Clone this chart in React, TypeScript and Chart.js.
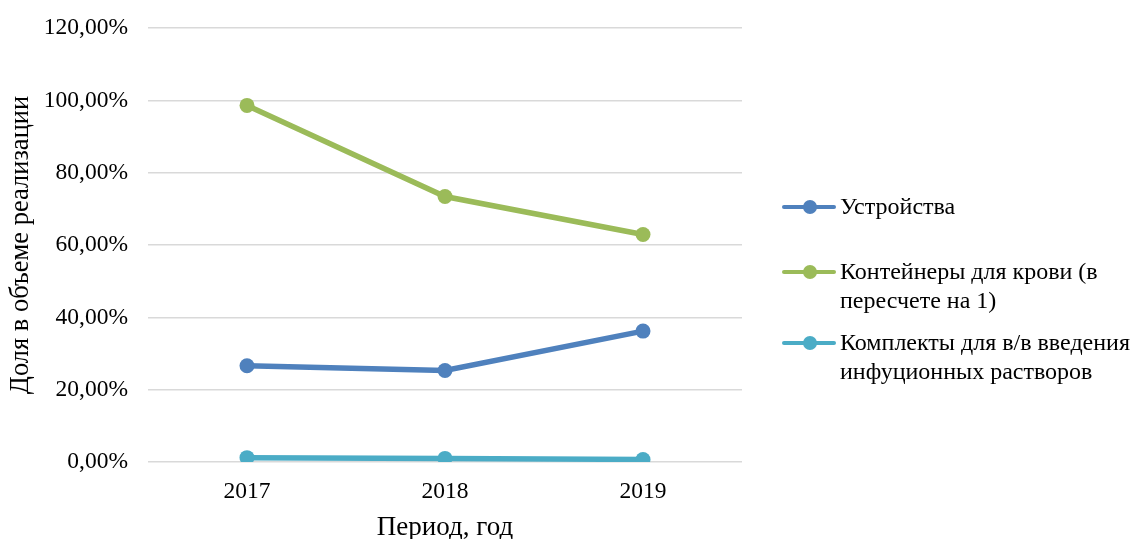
import React, { useEffect, useRef } from "react";
import { Chart, registerables } from "chart.js";

Chart.register(...registerables);

// Years on the horizontal axis
const years = ["2017", "2018", "2019"];

// Share of sales volume, percent
const devices = [26.6, 25.3, 36.2];
const bloodContainers = [98.6, 73.4, 62.9];
const infusionKits = [1.2, 1.0, 0.7];

// Legend text, one entry per line of the wrapped label
const seriesLabels: string[][] = [
  ["Устройства"],
  ["Контейнеры для крови (в", "пересчете на 1)"],
  ["Комплекты для в/в введения", "инфуционных растворов"],
];
const seriesColors = ["#4F81BD", "#9BBB59", "#4BACC6"];

const yAxisTitle = "Доля в объеме реализации";
const xAxisTitle = "Период, год";

const FONT = '"Liberation Serif", "Times New Roman", serif';
const W = 1135;
const H = 539;

// Vertical positions of the legend rows (first text line of each entry)
const legendRowTops = [192, 257, 328];

export default function App() {
  const canvasRef = useRef<HTMLCanvasElement | null>(null);

  useEffect(() => {
    if (!canvasRef.current) return;
    const seriesValues = [devices, bloodContainers, infusionKits];
    const chart = new Chart(canvasRef.current, {
      type: "line",
      data: {
        labels: years,
        datasets: seriesValues.map((vals, i) => ({
          label: seriesLabels[i].join(" "),
          data: vals,
          borderColor: seriesColors[i],
          backgroundColor: seriesColors[i],
          pointBackgroundColor: seriesColors[i],
          pointBorderColor: seriesColors[i],
          borderWidth: 5.5,
          pointRadius: 7.5,
          pointBorderWidth: 0,
          tension: 0,
          fill: false,
        })),
      },
      options: {
        animation: false,
        responsive: true,
        maintainAspectRatio: false,
        layout: { padding: { top: 28, right: W - 742, left: 0, bottom: 0 } },
        plugins: {
          legend: { display: false },
          tooltip: { enabled: false },
        },
        scales: {
          x: {
            offset: true,
            grid: { display: false },
            border: { display: false },
            ticks: {
              color: "#000",
              padding: 8,
              font: { family: FONT, size: 23.5 },
            },
            title: {
              display: true,
              text: xAxisTitle,
              color: "#000",
              padding: { top: 0, bottom: 0 },
              font: { family: FONT, size: 27, lineHeight: 0.8 },
            },
            afterFit: (scale: any) => {
              scale.height = H - 462;
            },
          },
          y: {
            min: 0,
            max: 120,
            grid: { color: "#d9d9d9", lineWidth: 1.5, drawTicks: false },
            border: { display: false },
            ticks: {
              stepSize: 20,
              color: "#000",
              padding: 20,
              font: { family: FONT, size: 23.5 },
              callback: (v: any) => Number(v).toFixed(2).replace(".", ",") + "%",
            },
            title: {
              display: true,
              text: yAxisTitle,
              color: "#000",
              padding: { top: 5, bottom: 0 },
              font: { family: FONT, size: 26.5 },
            },
            afterFit: (scale: any) => {
              scale.width = 148;
              // let the layout padding alone decide the top of the plot area
              scale.paddingTop = 0;
            },
          },
        },
      },
    });
    return () => chart.destroy();
  }, []);

  return (
    <div
      style={{
        position: "absolute",
        left: 0,
        top: 0,
        width: W,
        height: H,
        background: "#fff",
        fontFamily: FONT,
      }}
    >
      <canvas ref={canvasRef} />
      {seriesLabels.map((lines, i) => (
        <div
          key={i}
          style={{
            position: "absolute",
            left: 782,
            top: legendRowTops[i],
            display: "flex",
            alignItems: "flex-start",
          }}
        >
          <div style={{ position: "relative", width: 58, height: 29, flex: "none" }}>
            <div
              style={{
                position: "absolute",
                left: 0,
                top: 13,
                width: 54,
                height: 4,
                borderRadius: 2,
                background: seriesColors[i],
              }}
            />
            <div
              style={{
                position: "absolute",
                left: 21,
                top: 8,
                width: 14,
                height: 14,
                borderRadius: 7,
                background: seriesColors[i],
              }}
            />
          </div>
          <div style={{ fontSize: 24, lineHeight: "29px", color: "#000", whiteSpace: "nowrap" }}>
            {lines.map((t, j) => (
              <div key={j}>{t}</div>
            ))}
          </div>
        </div>
      ))}
    </div>
  );
}
